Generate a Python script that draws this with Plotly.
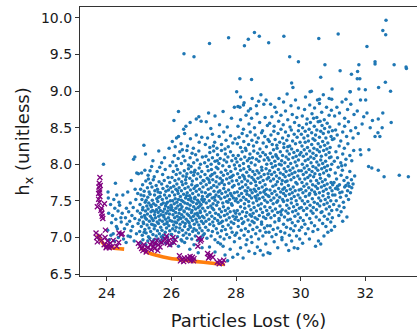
import plotly.graph_objects as go

# ---------------- data ----------------
# Blue scatter: all evaluated solutions (Particles Lost %, h_x)
cloud_a = [(24.42,7.05),(24.45,7.21),(24.48,7.33),(24.52,6.98),(24.55,7.12),(24.58,7.27),(24.61,7.40),(24.63,7.18),
           (24.66,7.02),(24.68,7.35),(24.71,7.22),(24.73,7.47),(24.75,7.09),(24.78,7.30),(24.80,7.15),(24.82,7.41),
           (24.85,6.95),(24.87,7.26),(24.90,7.52),(24.92,7.05),(24.95,7.36),(24.97,7.19),(24.40,7.44),(24.50,7.58),
           (24.65,7.62),(24.35,7.36),(24.88,7.66),(24.93,7.88),(24.98,7.87),(24.83,8.07),(24.87,8.10),(24.44,7.27),
           (24.60,6.93),(24.73,7.01),(24.96,7.60),(24.27,7.74),(24.76,7.78),
           (24.04,7.62),(24.05,7.54),(24.06,7.33),(24.03,7.10),(24.08,6.97),(24.15,7.20),(24.20,7.05),(23.90,8.00),
           (24.25,7.40),(24.30,7.15),(24.12,7.45),(24.18,7.30),(24.22,7.52),(24.28,7.25),(24.33,7.12),(24.38,7.48),
           (24.13,7.03),(24.24,6.95),(24.36,7.00),(24.31,7.58)]

cloud_b = [(25.05,6.93),(25.12,6.97),(25.21,6.90),(25.33,6.99),(25.41,6.94),(25.52,6.91),(25.58,6.98),(25.66,6.95),
           (25.74,6.99),(25.83,6.92),(25.90,6.96),(25.97,6.89),(25.27,6.95),(25.46,6.97),(25.70,6.93),
           (25.02,7.08),(25.07,7.15),(25.10,7.03),(25.14,7.19),(25.18,7.11),(25.22,7.06),(25.25,7.17),(25.29,7.01),
           (25.31,7.13),(25.36,7.08),(25.39,7.18),(25.43,7.04),(25.47,7.12),(25.50,7.16),(25.53,7.02),(25.57,7.09),
           (25.60,7.19),(25.63,7.05),(25.67,7.14),(25.71,7.10),(25.75,7.03),(25.78,7.18),(25.81,7.07),(25.85,7.13),
           (25.88,7.01),(25.92,7.16),(25.95,7.09),(25.99,7.04),(25.16,7.07),(25.45,7.17),(25.69,7.01),(25.86,7.19),
           (25.01,7.24),(25.04,7.33),(25.08,7.28),(25.11,7.38),(25.13,7.21),(25.17,7.30),(25.20,7.36),(25.23,7.25),
           (25.26,7.32),(25.28,7.39),(25.32,7.22),(25.35,7.29),(25.37,7.35),(25.40,7.26),(25.42,7.37),(25.44,7.23),
           (25.48,7.31),(25.51,7.27),(25.54,7.38),(25.56,7.21),(25.59,7.34),(25.61,7.29),(25.64,7.24),(25.66,7.37),
           (25.68,7.31),(25.72,7.22),(25.74,7.35),(25.77,7.28),(25.79,7.39),(25.82,7.25),(25.84,7.33),(25.87,7.21),
           (25.89,7.36),(25.91,7.27),(25.94,7.32),(25.96,7.23),(25.98,7.38),(25.19,7.27),(25.49,7.35),(25.76,7.30),
           (25.03,7.45),(25.09,7.52),(25.12,7.41),(25.15,7.57),(25.19,7.48),(25.24,7.43),(25.27,7.55),(25.30,7.47),
           (25.34,7.59),(25.38,7.42),(25.41,7.51),(25.45,7.46),(25.48,7.58),(25.52,7.44),(25.55,7.53),(25.58,7.49),
           (25.62,7.41),(25.65,7.56),(25.69,7.45),(25.72,7.52),(25.75,7.47),(25.79,7.58),(25.82,7.43),(25.85,7.54),
           (25.88,7.48),(25.91,7.41),(25.94,7.57),(25.97,7.50),(25.22,7.51),(25.36,7.44),(25.60,7.55),(25.84,7.46),
           (25.06,7.58),(25.99,7.44),
           (25.05,7.66),(25.11,7.72),(25.16,7.63),(25.21,7.77),(25.26,7.68),(25.31,7.62),(25.35,7.74),(25.40,7.69),
           (25.44,7.79),(25.49,7.64),(25.53,7.71),(25.57,7.66),(25.62,7.76),(25.66,7.61),(25.70,7.73),(25.74,7.67),
           (25.78,7.78),(25.83,7.63),(25.87,7.70),(25.91,7.65),(25.95,7.75),(25.98,7.68),(25.29,7.80),(25.59,7.62),
           (25.08,7.88),(25.18,7.92),(25.28,7.85),(25.39,7.97),(25.47,7.83),(25.56,7.90),(25.64,7.96),(25.73,7.86),
           (25.81,7.93),(25.90,7.82),(25.96,7.98),(25.34,7.91),
           (25.20,8.14),(25.43,8.05),(25.61,8.18),(25.79,8.09),(25.93,8.22),(25.15,8.26),(25.70,8.02)]

cloud_c = [(26.05,6.92),(26.22,6.88),(26.41,6.93),(26.57,6.84),(26.70,6.90),(26.83,6.79),(26.95,6.86),(26.33,6.95),
           (26.01,7.04),(26.04,7.12),(26.08,6.98),(26.12,7.09),(26.15,7.14),(26.19,7.01),(26.23,7.07),(26.26,7.13),
           (26.30,6.97),(26.34,7.10),(26.37,7.03),(26.41,7.15),(26.45,7.06),(26.48,6.99),(26.52,7.11),(26.56,7.04),
           (26.59,7.14),(26.63,6.98),(26.66,7.08),(26.70,7.12),(26.74,7.02),(26.77,7.10),(26.81,6.96),(26.84,7.06),
           (26.88,7.13),(26.91,7.00),(26.95,7.09),(26.98,7.03),
           (26.02,7.22),(26.05,7.31),(26.07,7.17),(26.10,7.27),(26.13,7.34),(26.16,7.20),(26.18,7.29),(26.21,7.24),
           (26.24,7.33),(26.27,7.18),(26.29,7.26),(26.32,7.31),(26.35,7.21),(26.38,7.28),(26.40,7.35),(26.43,7.19),
           (26.46,7.25),(26.49,7.32),(26.51,7.22),(26.54,7.30),(26.57,7.16),(26.60,7.27),(26.62,7.34),(26.65,7.23),
           (26.68,7.29),(26.71,7.18),(26.73,7.32),(26.76,7.25),(26.79,7.21),(26.82,7.30),(26.85,7.17),(26.87,7.27),
           (26.90,7.34),(26.93,7.22),(26.96,7.29),(26.99,7.19),(26.26,7.27),(26.55,7.20),(26.80,7.33),(26.11,7.21),
           (26.01,7.41),(26.04,7.50),(26.06,7.37),(26.09,7.46),(26.12,7.53),(26.14,7.40),(26.17,7.48),(26.20,7.43),
           (26.22,7.52),(26.25,7.38),(26.28,7.45),(26.31,7.51),(26.33,7.42),(26.36,7.49),(26.39,7.36),(26.42,7.47),
           (26.44,7.54),(26.47,7.40),(26.50,7.46),(26.53,7.52),(26.55,7.39),(26.58,7.44),(26.61,7.50),(26.64,7.37),
           (26.67,7.48),(26.69,7.42),(26.72,7.53),(26.75,7.39),(26.78,7.46),(26.81,7.51),(26.83,7.41),(26.86,7.48),
           (26.89,7.36),(26.92,7.45),(26.94,7.52),(26.97,7.40),(26.99,7.49),(26.30,7.39),(26.60,7.54),(26.88,7.43),
           (26.03,7.62),(26.07,7.70),(26.10,7.58),(26.14,7.66),(26.17,7.73),(26.21,7.60),(26.24,7.68),(26.28,7.56),
           (26.31,7.64),(26.35,7.72),(26.38,7.59),(26.42,7.67),(26.45,7.74),(26.49,7.61),(26.52,7.69),(26.56,7.57),
           (26.59,7.65),(26.63,7.72),(26.66,7.60),(26.70,7.67),(26.73,7.55),(26.77,7.63),(26.80,7.71),(26.84,7.58),
           (26.87,7.66),(26.91,7.74),(26.94,7.62),(26.98,7.69),(26.19,7.64),(26.47,7.57),(26.75,7.70),(26.96,7.56),
           (26.02,7.82),(26.06,7.90),(26.11,7.78),(26.15,7.86),(26.19,7.93),(26.23,7.80),(26.27,7.88),(26.32,7.76),
           (26.36,7.84),(26.40,7.91),(26.44,7.79),(26.48,7.87),(26.53,7.94),(26.57,7.81),(26.61,7.89),(26.65,7.77),
           (26.69,7.85),(26.73,7.92),(26.78,7.80),(26.82,7.87),(26.86,7.95),(26.90,7.83),(26.94,7.90),(26.98,7.78),
           (26.46,7.83),(26.71,7.89),
           (26.04,8.03),(26.09,8.12),(26.15,7.98),(26.21,8.08),(26.26,8.17),(26.31,8.01),(26.37,8.11),(26.42,8.05),
           (26.48,8.19),(26.53,7.99),(26.58,8.09),(26.64,8.15),(26.69,8.02),(26.75,8.13),(26.80,8.06),(26.85,8.18),
           (26.90,8.00),(26.96,8.10),(26.34,8.20),(26.61,7.97),
           (26.03,8.31),(26.12,8.24),(26.22,8.38),(26.30,8.28),(26.41,8.42),(26.50,8.25),(26.59,8.35),(26.68,8.22),
           (26.77,8.40),(26.86,8.30),(26.94,8.37),(26.16,8.36),
           (26.08,8.60),(26.22,8.72),(26.45,8.52),(26.58,8.57),(26.77,8.62),(26.85,8.65),(26.92,8.59),(26.38,8.48)]

cloud_d = [(27.18,6.87),(27.35,6.80),(27.52,6.91),(27.66,6.76),(27.74,6.68),(27.82,6.84),(27.90,6.73),(27.95,6.94),
           (27.44,6.93),(27.60,6.88),
           (27.02,7.05),(27.06,7.14),(27.10,6.99),(27.14,7.10),(27.19,7.18),(27.23,7.02),(27.27,7.08),(27.31,7.16),
           (27.35,6.97),(27.39,7.12),(27.43,7.06),(27.47,7.19),(27.51,7.01),(27.55,7.09),(27.59,7.15),(27.63,6.98),
           (27.67,7.11),(27.71,7.04),(27.76,7.17),(27.80,7.00),(27.84,7.13),(27.88,7.07),(27.93,7.19),(27.97,7.03),
           (27.01,7.27),(27.04,7.36),(27.07,7.22),(27.10,7.31),(27.13,7.41),(27.16,7.25),(27.19,7.34),(27.22,7.43),
           (27.25,7.29),(27.28,7.21),(27.31,7.38),(27.34,7.26),(27.37,7.33),(27.40,7.44),(27.43,7.23),(27.46,7.31),
           (27.49,7.39),(27.52,7.28),(27.55,7.35),(27.58,7.22),(27.61,7.42),(27.64,7.30),(27.67,7.37),(27.70,7.24),
           (27.73,7.32),(27.76,7.40),(27.79,7.27),(27.82,7.35),(27.85,7.21),(27.88,7.44),(27.91,7.29),(27.94,7.36),
           (27.97,7.25),(27.99,7.33),(27.27,7.40),(27.53,7.20),
           (27.02,7.52),(27.05,7.61),(27.08,7.47),(27.11,7.56),(27.14,7.66),(27.17,7.50),(27.20,7.59),(27.23,7.68),
           (27.26,7.54),(27.29,7.46),(27.32,7.63),(27.35,7.51),(27.38,7.58),(27.41,7.69),(27.44,7.48),(27.47,7.56),
           (27.50,7.64),(27.53,7.53),(27.56,7.60),(27.59,7.47),(27.62,7.67),(27.65,7.55),(27.68,7.62),(27.71,7.49),
           (27.74,7.57),(27.77,7.65),(27.80,7.52),(27.83,7.60),(27.86,7.46),(27.89,7.69),(27.92,7.54),(27.95,7.61),
           (27.98,7.50),(27.15,7.58),(27.45,7.62),(27.75,7.48),(27.33,7.55),(27.87,7.57),
           (27.01,7.77),(27.04,7.86),(27.08,7.72),(27.11,7.81),(27.14,7.91),(27.18,7.75),(27.21,7.84),(27.24,7.93),
           (27.28,7.79),(27.31,7.71),(27.34,7.88),(27.38,7.76),(27.41,7.83),(27.44,7.94),(27.48,7.73),(27.51,7.81),
           (27.54,7.89),(27.58,7.78),(27.61,7.85),(27.64,7.72),(27.68,7.92),(27.71,7.80),(27.74,7.87),(27.78,7.74),
           (27.81,7.82),(27.84,7.90),(27.88,7.77),(27.91,7.85),(27.94,7.71),(27.98,7.94),(27.26,7.86),(27.56,7.75),
           (27.86,7.83),(27.16,7.79),
           (27.03,8.02),(27.07,8.11),(27.11,7.97),(27.15,8.06),(27.19,8.16),(27.23,8.00),(27.27,8.09),(27.31,8.18),
           (27.35,8.04),(27.39,7.96),(27.43,8.13),(27.47,8.01),(27.51,8.08),(27.55,8.19),(27.59,7.98),(27.63,8.06),
           (27.67,8.14),(27.71,8.03),(27.75,8.10),(27.79,7.97),(27.83,8.17),(27.87,8.05),(27.91,8.12),(27.95,7.99),
           (27.99,8.08),(27.42,8.05),
           (27.05,8.27),(27.12,8.36),(27.19,8.23),(27.27,8.41),(27.34,8.30),(27.41,8.22),(27.48,8.38),(27.55,8.27),
           (27.62,8.44),(27.69,8.33),(27.76,8.24),(27.83,8.39),(27.90,8.29),(27.97,8.35),(27.30,8.25),(27.66,8.21),
           (27.08,8.58),(27.22,8.49),(27.35,8.66),(27.49,8.54),(27.60,8.72),(27.73,8.51),(27.86,8.63),(27.95,8.78),
           (27.15,8.70)]

cloud_e = [(28.05,6.77),(28.14,6.86),(28.22,6.72),(28.31,6.90),(28.40,6.81),(28.49,6.93),(28.58,6.78),(28.66,6.87),
           (28.75,6.82),(28.84,6.76),(28.92,6.91),(28.99,6.79),
           (28.02,7.06),(28.07,7.15),(28.11,6.99),(28.16,7.10),(28.20,7.19),(28.25,7.03),(28.29,7.12),(28.34,6.97),
           (28.38,7.08),(28.43,7.17),(28.47,7.01),(28.52,7.11),(28.56,7.20),(28.61,7.05),(28.65,7.14),(28.70,6.98),
           (28.74,7.09),(28.79,7.18),(28.83,7.02),(28.88,7.13),(28.92,7.07),(28.97,7.16),
           (28.01,7.28),(28.04,7.37),(28.07,7.23),(28.11,7.32),(28.14,7.42),(28.17,7.26),(28.20,7.35),(28.24,7.21),
           (28.27,7.40),(28.30,7.29),(28.33,7.34),(28.37,7.24),(28.40,7.43),(28.43,7.31),(28.46,7.38),(28.50,7.22),
           (28.53,7.33),(28.56,7.41),(28.59,7.27),(28.63,7.36),(28.66,7.25),(28.69,7.44),(28.72,7.30),(28.76,7.39),
           (28.79,7.21),(28.82,7.34),(28.85,7.28),(28.89,7.42),(28.92,7.26),(28.95,7.37),(28.98,7.31),(28.48,7.29),
           (28.01,7.53),(28.04,7.62),(28.06,7.48),(28.09,7.57),(28.12,7.67),(28.15,7.51),(28.17,7.60),(28.20,7.69),
           (28.23,7.55),(28.26,7.46),(28.28,7.64),(28.31,7.52),(28.34,7.59),(28.37,7.68),(28.39,7.49),(28.42,7.57),
           (28.45,7.65),(28.48,7.54),(28.50,7.61),(28.53,7.47),(28.56,7.66),(28.59,7.56),(28.61,7.63),(28.64,7.50),
           (28.67,7.58),(28.70,7.67),(28.72,7.53),(28.75,7.61),(28.78,7.46),(28.81,7.69),(28.83,7.55),(28.86,7.62),
           (28.89,7.51),(28.92,7.59),(28.94,7.66),(28.97,7.48),(28.99,7.57),(28.33,7.63),(28.62,7.54),(28.88,7.64),
           (28.02,7.78),(28.05,7.87),(28.08,7.73),(28.11,7.82),(28.14,7.92),(28.18,7.76),(28.21,7.85),(28.24,7.94),
           (28.27,7.80),(28.30,7.72),(28.33,7.89),(28.36,7.77),(28.40,7.84),(28.43,7.93),(28.46,7.74),(28.49,7.82),
           (28.52,7.90),(28.55,7.79),(28.58,7.86),(28.62,7.71),(28.65,7.91),(28.68,7.81),(28.71,7.88),(28.74,7.75),
           (28.77,7.83),(28.80,7.92),(28.84,7.78),(28.87,7.86),(28.90,7.72),(28.93,7.94),(28.96,7.80),(28.99,7.87),
           (28.25,7.83),(28.60,7.76),
           (28.03,8.03),(28.07,8.12),(28.11,7.98),(28.15,8.07),(28.19,8.17),(28.23,8.01),(28.27,8.10),(28.31,8.19),
           (28.35,8.05),(28.39,7.97),(28.43,8.14),(28.47,8.02),(28.51,8.09),(28.55,8.18),(28.59,7.99),(28.63,8.07),
           (28.67,8.15),(28.71,8.04),(28.75,8.11),(28.79,7.96),(28.83,8.16),(28.87,8.06),(28.91,8.13),(28.95,8.00),
           (28.98,8.09),(28.41,8.08),
           (28.04,8.28),(28.09,8.37),(28.14,8.23),(28.19,8.42),(28.24,8.31),(28.29,8.22),(28.34,8.39),(28.39,8.27),
           (28.44,8.44),(28.49,8.33),(28.54,8.25),(28.59,8.40),(28.64,8.30),(28.69,8.36),(28.74,8.21),(28.79,8.43),
           (28.84,8.29),(28.89,8.38),(28.94,8.24),(28.99,8.34),
           (28.06,8.52),(28.14,8.61),(28.23,8.48),(28.31,8.67),(28.40,8.55),(28.48,8.63),(28.57,8.50),(28.65,8.69),
           (28.73,8.57),(28.82,8.46),(28.90,8.64),(28.97,8.53),
           (28.12,8.78),(28.25,8.84),(28.38,8.73),(28.50,8.90),(28.63,8.80),(28.70,8.86),(28.77,8.95),(28.86,8.82),
           (28.93,8.88),(28.45,8.76),(28.02,8.99),(28.14,8.92),(28.06,8.79),(28.23,8.81)]

cloud_f = [(29.05,6.78),(29.18,6.94),(29.29,6.86),(29.42,6.97),(29.55,6.90),(29.63,6.82),(29.72,6.95),(29.80,6.86),
           (29.91,6.85),(29.97,6.98),
           (29.02,7.07),(29.06,7.16),(29.11,7.01),(29.15,7.11),(29.20,7.21),(29.24,7.04),(29.29,7.13),(29.33,7.23),
           (29.38,7.08),(29.42,7.00),(29.47,7.18),(29.51,7.06),(29.56,7.14),(29.60,7.24),(29.65,7.03),(29.69,7.12),
           (29.74,7.20),(29.78,7.09),(29.83,7.16),(29.87,7.02),(29.92,7.22),(29.96,7.10),
           (29.01,7.32),(29.05,7.41),(29.08,7.27),(29.12,7.36),(29.15,7.46),(29.19,7.30),(29.22,7.39),(29.26,7.48),
           (29.29,7.34),(29.33,7.26),(29.36,7.43),(29.40,7.31),(29.43,7.38),(29.47,7.49),(29.50,7.28),(29.54,7.36),
           (29.57,7.44),(29.61,7.33),(29.64,7.40),(29.68,7.25),(29.71,7.47),(29.75,7.35),(29.78,7.42),(29.82,7.29),
           (29.85,7.37),(29.89,7.45),(29.92,7.32),(29.96,7.40),(29.99,7.27),(29.38,7.35),
           (29.02,7.56),(29.05,7.65),(29.08,7.51),(29.11,7.60),(29.14,7.70),(29.17,7.54),(29.20,7.63),(29.23,7.72),
           (29.26,7.58),(29.29,7.50),(29.32,7.67),(29.35,7.55),(29.38,7.62),(29.41,7.73),(29.44,7.52),(29.47,7.60),
           (29.50,7.68),(29.53,7.57),(29.56,7.64),(29.59,7.51),(29.62,7.71),(29.65,7.59),(29.68,7.66),(29.71,7.53),
           (29.74,7.61),(29.77,7.69),(29.80,7.56),(29.83,7.64),(29.86,7.50),(29.89,7.73),(29.92,7.58),(29.95,7.65),
           (29.98,7.54),(29.45,7.66),
           (29.01,7.82),(29.04,7.91),(29.07,7.77),(29.10,7.86),(29.13,7.96),(29.16,7.80),(29.19,7.89),(29.22,7.98),
           (29.25,7.84),(29.28,7.76),(29.31,7.93),(29.34,7.81),(29.37,7.88),(29.40,7.99),(29.43,7.78),(29.46,7.86),
           (29.49,7.94),(29.52,7.83),(29.55,7.90),(29.58,7.77),(29.61,7.97),(29.64,7.85),(29.67,7.92),(29.70,7.79),
           (29.73,7.87),(29.76,7.95),(29.79,7.82),(29.82,7.89),(29.85,7.75),(29.88,7.98),(29.91,7.84),(29.94,7.91),
           (29.97,7.80),(29.53,7.76),
           (29.02,8.06),(29.06,8.15),(29.09,8.01),(29.13,8.10),(29.16,8.20),(29.20,8.04),(29.23,8.13),(29.27,8.22),
           (29.30,8.08),(29.34,8.00),(29.37,8.17),(29.41,8.05),(29.44,8.12),(29.48,8.23),(29.51,8.02),(29.55,8.10),
           (29.58,8.18),(29.62,8.07),(29.65,8.14),(29.69,8.01),(29.72,8.21),(29.76,8.09),(29.79,8.16),(29.83,8.03),
           (29.86,8.11),(29.90,8.19),(29.93,8.06),(29.97,8.13),(29.25,8.11),(29.60,8.24),
           (29.03,8.31),(29.08,8.40),(29.12,8.27),(29.17,8.45),(29.21,8.34),(29.26,8.26),(29.30,8.42),(29.35,8.30),
           (29.39,8.48),(29.44,8.36),(29.48,8.28),(29.53,8.44),(29.57,8.33),(29.62,8.39),(29.66,8.25),(29.71,8.47),
           (29.75,8.32),(29.80,8.41),(29.84,8.28),(29.89,8.37),(29.93,8.46),(29.98,8.30),
           (29.04,8.56),(29.11,8.65),(29.18,8.52),(29.25,8.71),(29.32,8.59),(29.39,8.67),(29.46,8.54),(29.53,8.73),
           (29.60,8.61),(29.67,8.51),(29.74,8.68),(29.81,8.57),(29.88,8.64),(29.95,8.53),
           (29.07,8.82),(29.20,8.78),(29.33,8.90),(29.47,8.85),(29.58,8.96),(29.70,8.80),(29.84,8.88),(29.93,8.77)]

cloud_g = [(30.06,6.92),(30.15,7.05),(30.27,6.98),(30.38,7.08),(30.46,6.88),(30.55,6.95),(30.62,6.91),(30.72,7.02),
           (30.84,7.07),(30.95,7.10),
           (30.03,7.14),(30.08,7.23),(30.13,7.18),(30.18,7.31),(30.23,7.12),(30.28,7.26),(30.33,7.20),(30.38,7.33),
           (30.43,7.16),(30.48,7.28),(30.53,7.11),(30.58,7.24),(30.63,7.34),(30.68,7.19),(30.73,7.29),(30.78,7.15),
           (30.83,7.25),(30.88,7.32),(30.93,7.21),(30.98,7.27),
           (30.02,7.41),(30.05,7.50),(30.09,7.37),(30.12,7.46),(30.15,7.56),(30.19,7.40),(30.22,7.49),(30.26,7.58),
           (30.29,7.44),(30.32,7.36),(30.36,7.53),(30.39,7.41),(30.42,7.48),(30.46,7.59),(30.49,7.38),(30.52,7.46),
           (30.56,7.54),(30.59,7.43),(30.62,7.50),(30.66,7.35),(30.69,7.57),(30.72,7.45),(30.76,7.52),(30.79,7.39),
           (30.82,7.47),(30.86,7.55),(30.89,7.42),(30.93,7.50),(30.96,7.37),(30.99,7.58),
           (30.01,7.66),(30.04,7.75),(30.07,7.61),(30.10,7.70),(30.13,7.80),(30.16,7.64),(30.19,7.73),(30.22,7.82),
           (30.25,7.68),(30.28,7.60),(30.31,7.77),(30.34,7.65),(30.37,7.72),(30.40,7.83),(30.43,7.62),(30.46,7.70),
           (30.49,7.78),(30.52,7.67),(30.55,7.74),(30.58,7.61),(30.61,7.81),(30.64,7.69),(30.67,7.76),(30.70,7.63),
           (30.73,7.71),(30.76,7.79),(30.79,7.66),(30.82,7.73),(30.85,7.60),(30.88,7.84),(30.91,7.68),(30.94,7.75),
           (30.97,7.64),(30.99,7.72),
           (30.02,7.91),(30.05,8.00),(30.08,7.86),(30.11,7.95),(30.14,8.05),(30.17,7.89),(30.20,7.98),(30.23,8.07),
           (30.26,7.93),(30.29,7.85),(30.32,8.02),(30.35,7.90),(30.38,7.97),(30.41,8.08),(30.44,7.87),(30.47,7.95),
           (30.50,8.03),(30.53,7.92),(30.56,7.99),(30.59,7.86),(30.62,8.06),(30.65,7.94),(30.68,8.01),(30.71,7.88),
           (30.74,7.96),(30.77,8.04),(30.80,7.91),(30.83,7.98),(30.86,7.85),(30.89,8.09),(30.92,7.93),(30.96,8.00),
           (30.01,8.16),(30.04,8.25),(30.08,8.11),(30.11,8.20),(30.14,8.30),(30.18,8.14),(30.21,8.23),(30.24,8.32),
           (30.28,8.18),(30.31,8.10),(30.34,8.27),(30.38,8.15),(30.41,8.22),(30.44,8.33),(30.48,8.12),(30.51,8.20),
           (30.54,8.28),(30.58,8.17),(30.61,8.24),(30.64,8.11),(30.68,8.31),(30.71,8.19),(30.74,8.26),(30.78,8.13),
           (30.81,8.21),(30.84,8.29),(30.88,8.16),(30.91,8.23),(30.94,8.10),(30.98,8.34),
           (30.02,8.41),(30.06,8.50),(30.10,8.36),(30.14,8.45),(30.18,8.55),(30.22,8.39),(30.26,8.48),(30.30,8.57),
           (30.34,8.43),(30.38,8.35),(30.42,8.52),(30.46,8.40),(30.50,8.47),(30.54,8.58),(30.58,8.37),(30.62,8.45),
           (30.66,8.53),(30.70,8.42),(30.74,8.49),(30.78,8.36),(30.82,8.56),(30.86,8.44),(30.90,8.51),(30.94,8.38),
           (30.98,8.46),(30.60,8.59),
           (30.05,8.66),(30.12,8.75),(30.20,8.62),(30.28,8.81),(30.35,8.69),(30.43,8.77),(30.50,8.64),(30.58,8.83),
           (30.65,8.71),(30.73,8.61),(30.80,8.78),(30.88,8.67),(30.95,8.74),(30.40,8.63),
           (30.15,8.92),(30.33,9.00),(30.52,8.88),(30.70,8.95),(30.88,8.90),(30.97,9.03)]

cloud_h = [(31.05,7.15),(31.18,7.30),(31.30,7.22),(31.43,7.28),(31.12,7.38),(31.25,7.35),
           (31.02,7.45),(31.06,7.58),(31.10,7.50),(31.15,7.66),(31.19,7.43),(31.23,7.55),(31.28,7.62),(31.32,7.48),
           (31.36,7.69),(31.41,7.57),(31.45,7.64),(31.50,7.70),(31.54,7.61),(31.58,7.68),(31.08,7.67),(31.34,7.41),
           (31.48,7.52),(31.21,7.61),
           (31.03,7.75),(31.07,7.88),(31.11,7.80),(31.16,7.96),(31.20,7.72),(31.25,7.85),(31.29,7.92),(31.34,7.78),
           (31.38,7.99),(31.43,7.82),(31.47,7.74),(31.52,7.90),(31.57,7.79),(31.62,7.73),(31.67,7.84),(31.14,7.70),
           (31.40,7.71),(31.27,7.98),
           (31.04,8.04),(31.09,8.17),(31.14,8.09),(31.19,8.25),(31.24,8.02),(31.30,8.14),(31.35,8.22),(31.40,8.07),
           (31.46,8.28),(31.52,8.12),(31.58,8.05),(31.64,8.19),(31.84,8.20),(31.86,8.13),
           (31.03,8.35),(31.08,8.47),(31.13,8.40),(31.19,8.55),(31.24,8.32),(31.30,8.44),(31.36,8.52),(31.42,8.38),
           (31.48,8.58),(31.55,8.46),(31.62,8.36),(31.70,8.50),(31.78,8.42),(31.90,8.55),
           (31.05,8.66),(31.12,8.78),(31.20,8.70),(31.28,8.85),(31.36,8.63),(31.45,8.75),(31.55,8.82),(31.65,8.68),
           (31.75,8.73),(31.85,8.88),(31.95,8.65),(31.40,8.89),(31.53,8.99),(31.80,9.03),
           (32.01,8.88),(32.05,8.70),(32.10,7.97),(32.15,8.50),(32.22,8.60),(32.30,8.38),(32.39,8.43),(32.40,7.92),
           (32.45,8.38),(32.52,8.50),(32.54,8.70),(32.40,8.62),(32.58,7.83),(32.80,8.57),(33.05,7.85),(33.33,7.83),
           (32.20,7.95),(32.11,8.20)]

outliers = [(26.39,9.51),(26.70,9.47),(27.18,9.65),(27.77,9.73),(28.26,9.62),(28.38,9.71),(28.57,9.80),(28.72,9.75),
            (29.01,9.66),(29.48,9.75),(29.66,9.47),(29.93,9.40),(30.56,9.72),(30.75,9.36),(31.16,9.78),(31.22,9.28),
            (31.57,9.23),(32.05,9.61),(32.30,9.40),(32.30,9.37),(32.54,9.83),(32.64,9.97),(32.63,9.77),(32.89,9.36),
            (33.26,9.33),(33.27,9.31),(32.62,9.12),(32.78,9.00),(32.41,9.05),(31.80,9.36),(31.76,9.27),(31.83,9.17),
            (31.75,9.17),(32.00,9.02),(28.12,9.17),(28.48,9.16),(29.72,9.11),(29.76,9.05),(30.29,8.99),(30.58,8.89),
            (30.96,8.89),(31.53,8.99),(30.62,9.19)]

# Purple crosses: non-dominated (Pareto) solutions
pareto_pts = [(23.79,7.82),(23.77,7.74),(23.76,7.69),(23.78,7.65),(23.75,7.60),(23.79,7.56),(23.75,7.52),(23.77,7.48),
              (23.71,7.42),(23.93,7.46),(23.85,7.33),(23.88,7.26),(23.82,7.37),(23.86,7.29),(23.96,7.10),(23.80,7.71),
              (23.78,7.62),(23.84,7.40),
              (23.67,7.06),(23.69,7.00),(23.71,6.94),(23.79,7.02),(23.84,6.96),(23.92,6.90),(23.98,6.86),(24.05,6.90),
              (24.12,6.92),(24.20,6.96),(24.00,6.88),(24.08,6.86),(24.31,6.88),(24.37,6.93),(24.16,6.87),(24.38,7.06),
              (24.45,7.04),(24.48,7.05),(24.02,6.95),(23.95,7.00),
              (24.98,6.92),(25.03,6.88),(25.08,6.85),(25.12,6.82),(25.18,6.84),(25.22,6.80),(25.15,6.90),(25.28,6.86),
              (25.35,6.90),(25.40,6.94),(25.45,6.88),(25.50,6.92),(25.55,6.96),(25.48,6.85),(25.60,6.90),(25.65,6.87),
              (25.70,6.93),(25.75,6.95),(25.80,6.98),(25.85,7.02),(25.92,6.96),(25.95,6.90),(26.05,7.00),(26.08,6.93),
              (26.12,6.97),(25.58,6.82),(25.38,6.83),(25.88,6.92),
              (26.85,6.99),(26.90,6.95),(26.82,6.88),(26.93,6.97),
              (26.25,6.75),(26.32,6.70),(26.38,6.67),(26.45,6.69),(26.50,6.72),(26.55,6.70),(26.60,6.68),(26.65,6.73),
              (26.70,6.71),(26.40,6.72),(26.58,6.74),(26.68,6.68),(26.28,6.68),
              (27.12,6.78),(27.18,6.74),(27.22,6.76),(27.28,6.73),(27.15,6.72),
              (27.42,6.66),(27.50,6.68),(27.58,6.65),(27.62,6.69),(27.48,6.64)]

# Orange curves: fitted Pareto front (two branches)
front1_x = [23.72, 23.79, 23.87, 23.95, 24.05, 24.15, 24.30, 24.54]
front1_y = [7.04, 6.98, 6.93, 6.89, 6.87, 6.86, 6.85, 6.84]
front2_x = [25.05, 25.30, 25.60, 25.90, 26.20, 26.60, 27.00, 27.40, 27.65]
front2_y = [6.86, 6.79, 6.75, 6.72, 6.70, 6.68, 6.66, 6.64, 6.63]

x_ticks = [24, 26, 28, 30, 32]
y_ticks = [6.5, 7.0, 7.5, 8.0, 8.5, 9.0, 9.5, 10.0]
y_tick_text = ["6.5", "7.0", "7.5", "8.0", "8.5", "9.0", "9.5", "10.0"]

# ---------------- figure ----------------
all_pts = cloud_a + cloud_b + cloud_c + cloud_d + cloud_e + cloud_f + cloud_g + cloud_h + outliers
FONT = "DejaVu Sans"

fig = go.Figure()
fig.add_trace(go.Scatter(
    x=[p[0] for p in all_pts], y=[p[1] for p in all_pts], mode="markers",
    marker=dict(color="#1f77b4", size=3.5, line=dict(width=0)), showlegend=False))
for fx, fy in ((front1_x, front1_y), (front2_x, front2_y)):
    fig.add_trace(go.Scatter(x=fx, y=fy, mode="lines",
                             line=dict(color="#ff7f0e", width=3.6, shape="spline"), showlegend=False))
fig.add_trace(go.Scatter(
    x=[p[0] for p in pareto_pts], y=[p[1] for p in pareto_pts], mode="markers",
    marker=dict(symbol="x-thin", size=5, line=dict(color="purple", width=1.3)), showlegend=False))

axis_common = dict(showgrid=False, zeroline=False, showline=True, linecolor="#333333", linewidth=1.3,
                   ticks="outside", ticklen=4, tickwidth=1, tickcolor="#333333",
                   tickfont=dict(family=FONT, size=14, color="#1a1a1a"))

fig.update_layout(
    width=417, height=335,
    margin=dict(l=80, r=0, t=7, b=59),
    paper_bgcolor="white", plot_bgcolor="white",
    xaxis=dict(range=[23.174, 33.598], tickvals=x_ticks, mirror=True,
               title=dict(text="Particles Lost (%)", font=dict(family=FONT, size=18, color="#1a1a1a"), standoff=14),
               **axis_common),
    yaxis=dict(range=[6.473, 10.150], tickvals=y_ticks, ticktext=y_tick_text,
               title=dict(text="h<sub>x</sub> (unitless)", font=dict(family=FONT, size=18, color="#1a1a1a"), standoff=6),
               **axis_common),
)

fig.write_html("out.html")
